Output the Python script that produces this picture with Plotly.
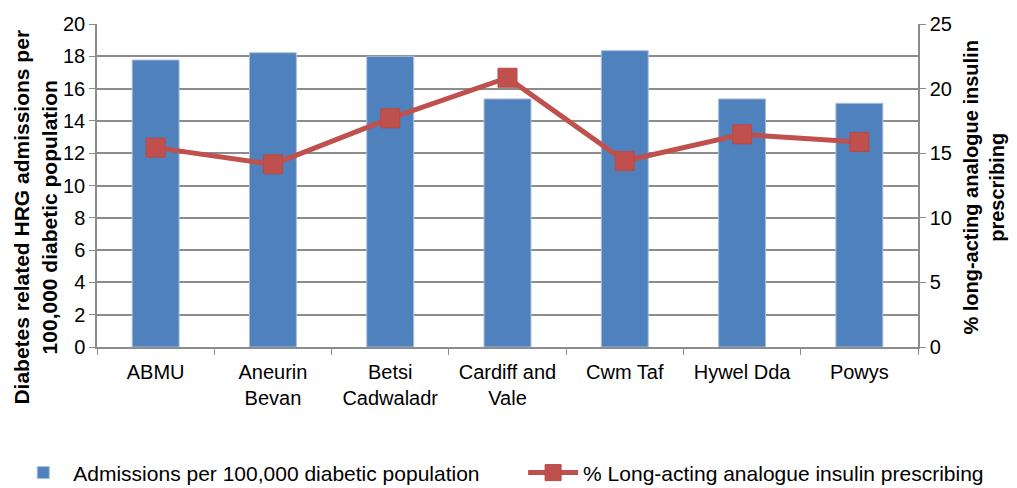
import plotly.graph_objects as go

categories = ["ABMU", "Aneurin<br>Bevan", "Betsi<br>Cadwaladr", "Cardiff and<br>Vale",
              "Cwm Taf", "Hywel Dda", "Powys"]
admissions = [17.77, 18.22, 18.0, 15.36, 18.35, 15.36, 15.09]
long_acting_pct = [15.43, 14.14, 17.7, 20.84, 14.4, 16.46, 15.87]

bar_name = "Admissions per 100,000 diabetic population"
line_name = "% Long-acting analogue insulin prescribing"
left_title = "<b>Diabetes related HRG admissions per<br>100,000 diabetic population</b>"
right_title = "<b>% long-acting analogue insulin<br>prescribing</b>"

font_family = "Liberation Sans, Arial, sans-serif"
grid_col = "#8c8c8c"

fig = go.Figure()
fig.add_trace(go.Bar(
    x=categories, y=admissions, name=bar_name,
    marker=dict(color="#4f81bd", line=dict(color="#a7bfde", width=1)),
    yaxis="y", legend="legend",
))
fig.add_trace(go.Scatter(
    x=categories, y=long_acting_pct, name=line_name,
    mode="lines+markers",
    line=dict(color="#c0504d", width=5),
    marker=dict(symbol="square", size=19, color="#c0504d", line=dict(color="#b84a47", width=1)),
    yaxis="y2", legend="legend2",
))

fig.update_layout(
    width=1009, height=480,
    margin=dict(l=89, r=99, t=16, b=141, autoexpand=False),
    paper_bgcolor="white", plot_bgcolor="white",
    font=dict(family=font_family, size=20, color="#000000"),
    bargap=0.6,
    showlegend=True,
    legend=dict(orientation="h", x=-0.102, xanchor="left", y=-0.39, yanchor="middle",
                font=dict(size=21), itemwidth=50, bgcolor="rgba(0,0,0,0)"),
    legend2=dict(orientation="h", x=0.519, xanchor="left", y=-0.39, yanchor="middle",
                 font=dict(size=21), itemwidth=50, bgcolor="rgba(0,0,0,0)"),
    xaxis=dict(
        showline=True, linecolor=grid_col, linewidth=1.5,
        ticks="outside", tickson="boundaries", ticklen=6, tickcolor=grid_col,
        tickfont=dict(size=20), showgrid=False, automargin=False,
        ticklabelstandoff=6,
    ),
    yaxis=dict(
        range=[0, 20], dtick=2, showgrid=True, gridcolor=grid_col, gridwidth=1.5,
        showline=True, linecolor=grid_col, linewidth=1.5,
        ticks="outside", ticklen=6, tickcolor=grid_col,
        tickfont=dict(size=20), automargin=False,
        zeroline=False,
    ),
    yaxis2=dict(
        range=[0, 25], dtick=5, overlaying="y", side="right", showgrid=False,
        showline=True, linecolor=grid_col, linewidth=1.5,
        ticks="outside", ticklen=6, tickcolor=grid_col,
        tickfont=dict(size=20), automargin=False,
        zeroline=False,
    ),
    annotations=[
        dict(text=left_title, xref="paper", yref="paper", x=-0.075, y=0.402,
             xanchor="center", yanchor="middle", textangle=-90, showarrow=False,
             align="center", font=dict(size=21)),
        dict(text=right_title, xref="paper", yref="paper", x=1.081, y=0.492,
             xanchor="center", yanchor="middle", textangle=-90, showarrow=False,
             align="center", font=dict(size=20)),
    ],
)

fig.write_html("out.html")
